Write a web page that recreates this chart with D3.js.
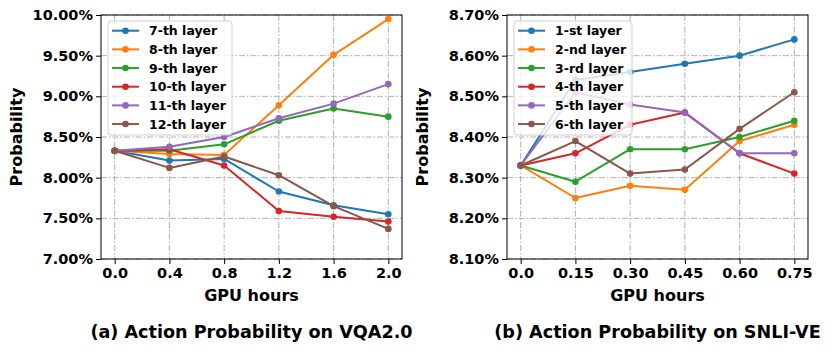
<!DOCTYPE html>
<html>
<head>
<meta charset="utf-8">
<script src="https://cdn.jsdelivr.net/npm/d3@7"></script>
<style>
  html, body { margin: 0; padding: 0; background: #fff; }
  svg { display: block; font-family: "DejaVu Sans", sans-serif; font-weight: bold; }
</style>
</head>
<body>
<svg id="chart" width="831" height="351"></svg>
<script>
// ---------- data ----------
const colors = ["#1f77b4", "#ff7f0e", "#2ca02c", "#d62728", "#9467bd", "#8c564b"];

const hoursA = [0.0, 0.4, 0.8, 1.2, 1.6, 2.0];
const xTickLabelsA = ["0.0", "0.4", "0.8", "1.2", "1.6", "2.0"];
const yTicksA = [7.0, 7.5, 8.0, 8.5, 9.0, 9.5, 10.0];
const namesA = ["7-th layer", "8-th layer", "9-th layer", "10-th layer", "11-th layer", "12-th layer"];
const layer7 = [8.33, 8.21, 8.23, 7.83, 7.66, 7.55];
const layer8 = [8.33, 8.29, 8.28, 8.89, 9.51, 9.95];
const layer9 = [8.33, 8.33, 8.41, 8.70, 8.85, 8.75];
const layer10 = [8.33, 8.35, 8.15, 7.59, 7.52, 7.46];
const layer11 = [8.33, 8.38, 8.50, 8.73, 8.91, 9.15];
const layer12 = [8.33, 8.12, 8.26, 8.03, 7.65, 7.37];
const captionA = "(a) Action Probability on VQA2.0";

const hoursB = [0.0, 0.15, 0.30, 0.45, 0.60, 0.75];
const xTickLabelsB = ["0.0", "0.15", "0.30", "0.45", "0.60", "0.75"];
const yTicksB = [8.1, 8.2, 8.3, 8.4, 8.5, 8.6, 8.7];
const namesB = ["1-st layer", "2-nd layer", "3-rd layer", "4-th layer", "5-th layer", "6-th layer"];
const layer1 = [8.33, 8.54, 8.56, 8.58, 8.60, 8.64];
const layer2 = [8.33, 8.25, 8.28, 8.27, 8.39, 8.43];
const layer3 = [8.33, 8.29, 8.37, 8.37, 8.40, 8.44];
const layer4 = [8.33, 8.36, 8.43, 8.46, 8.36, 8.31];
const layer5 = [8.33, 8.51, 8.48, 8.46, 8.36, 8.36];
const layer6 = [8.33, 8.39, 8.31, 8.32, 8.42, 8.51];
const captionB = "(b) Action Probability on SNLI-VE";

const xLabel = "GPU hours";
const yLabel = "Probability";

// ---------- drawing ----------
const svg = d3.select("#chart");

function panel(cfg) {
  const { left, top, width, height, xs, xLabels, yTicks, names, series, caption, legendW } = cfg;
  const g = svg.append("g");
  const xmin = d3.min(xs), xmax = d3.max(xs), pad = (xmax - xmin) * 0.05;
  const x = d3.scaleLinear().domain([xmin - pad, xmax + pad]).range([left, left + width]);
  const y = d3.scaleLinear().domain([d3.min(yTicks), d3.max(yTicks)]).range([top + height, top]);

  // grid
  const grid = g.append("g").attr("stroke", "#b0b0b0").attr("stroke-width", 1)
    .attr("stroke-dasharray", "6,2,1.5,2");
  grid.selectAll("line.gx").data(xs).join("line")
    .attr("x1", d => x(d)).attr("x2", d => x(d)).attr("y1", top).attr("y2", top + height);
  grid.selectAll("line.gy").data(yTicks).join("line")
    .attr("y1", d => y(d)).attr("y2", d => y(d)).attr("x1", left).attr("x2", left + width);

  // series
  series.forEach((vals, i) => {
    const pts = vals.map((v, j) => [xs[j], v]);
    g.append("path").datum(pts)
      .attr("fill", "none").attr("stroke", colors[i]).attr("stroke-width", 2)
      .attr("stroke-linejoin", "round")
      .attr("d", d3.line().x(d => x(d[0])).y(d => y(d[1])));
    g.append("g").selectAll("circle").data(pts).join("circle")
      .attr("cx", d => x(d[0])).attr("cy", d => y(d[1])).attr("r", 3.3)
      .attr("fill", colors[i]);
  });

  // axes
  const xAxis = d3.axisBottom(x).tickValues(xs).tickFormat((d, i) => xLabels[i]).tickSize(5).tickPadding(4);
  const gx = g.append("g").attr("transform", `translate(0,${top + height})`).call(xAxis);
  const yAxis = d3.axisLeft(y).tickValues(yTicks).tickFormat(d => d.toFixed(2) + "%").tickSize(5).tickPadding(3);
  const gy = g.append("g").attr("transform", `translate(${left},0)`).call(yAxis);
  [gx, gy].forEach(a => {
    a.select(".domain").remove();
    a.selectAll(".tick line").attr("stroke", "#000").attr("stroke-width", 1);
    a.selectAll(".tick text").attr("fill", "#000")
      .style("font-family", "'DejaVu Sans'").style("font-weight", "bold").style("font-size", "14.5px");
  });

  // frame
  g.append("rect").attr("x", left).attr("y", top).attr("width", width).attr("height", height)
    .attr("fill", "none").attr("stroke", "#000").attr("stroke-width", 1);

  // legend
  const lx = left + 7, ly = top + 6, rowH = 18.67;
  const lg = g.append("g");
  lg.append("rect").attr("x", lx).attr("y", ly).attr("width", legendW).attr("height", 114)
    .attr("rx", 3).attr("fill", "rgba(255,255,255,0.8)").attr("stroke", "#d0d0d0").attr("stroke-width", 1);
  names.forEach((n, i) => {
    const cy = ly + 9.7 + i * rowH;
    lg.append("line").attr("x1", lx + 4).attr("x2", lx + 31).attr("y1", cy).attr("y2", cy)
      .attr("stroke", colors[i]).attr("stroke-width", 2);
    lg.append("circle").attr("cx", lx + 17.5).attr("cy", cy).attr("r", 3.3).attr("fill", colors[i]);
    lg.append("text").attr("x", lx + 41).attr("y", cy).attr("dy", "0.36em")
      .style("font-size", "12.5px").attr("fill", "#000").text(n);
  });

  // labels
  g.append("text").attr("x", left + width / 2).attr("y", top + height + 42)
    .attr("text-anchor", "middle").style("font-size", "16px").text(xLabel);
  g.append("text").attr("transform", `translate(${left - 79},${top + height / 2}) rotate(-90)`)
    .attr("text-anchor", "middle").style("font-size", "16px").text(yLabel);
  g.append("text").attr("x", left + width / 2).attr("y", 338)
    .attr("text-anchor", "middle").style("font-size", "17.6px").text(caption);
}

panel({ left: 101, top: 15, width: 301, height: 244, xs: hoursA, xLabels: xTickLabelsA, yTicks: yTicksA,
  names: namesA, series: [layer7, layer8, layer9, layer10, layer11, layer12], caption: captionA, legendW: 124 });
panel({ left: 507, top: 15, width: 301, height: 244, xs: hoursB, xLabels: xTickLabelsB, yTicks: yTicksB,
  names: namesB, series: [layer1, layer2, layer3, layer4, layer5, layer6], caption: captionB, legendW: 118 });
</script>
</body>
</html>
